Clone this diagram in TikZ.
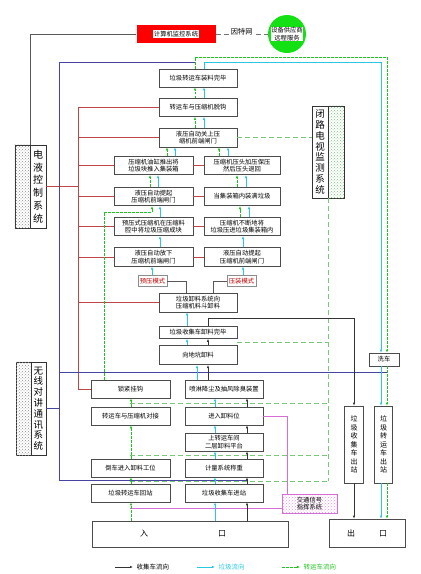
\documentclass[tikz,border=0pt]{standalone}
\usepackage{fontspec}
\setmainfont{Noto Sans CJK SC}
\usetikzlibrary{arrows.meta,patterns}
\definecolor{flowgreen}{RGB}{30,195,30}
\definecolor{flowcyan}{RGB}{40,200,225}
\definecolor{vendgreen}{RGB}{20,225,20}
\definecolor{ctrlred}{RGB}{190,70,70}
\definecolor{busblue}{RGB}{70,70,160}
\definecolor{sigpink}{RGB}{215,110,215}
\definecolor{cctvgreen}{RGB}{120,200,120}
\newcommand{\bxfont}{\fontsize{6.3}{7.6}\selectfont}
\newcommand{\sdfont}{\fontsize{10}{12.8}\selectfont}
\newcommand{\wxfont}{\fontsize{9.5}{10.8}\selectfont}
\newcommand{\vtfont}{\fontsize{7}{8.5}\selectfont}
\newcommand{\ptfont}{\fontsize{8}{9}\selectfont}
\newcommand{\lgfont}{\fontsize{6.5}{7.5}\selectfont}
\newcommand{\flowln}[4]{% style, x, lower box, upper box
\draw[#1] (#3.north -| #2,0) -- (#4.south -| #2,0);
}
\tikzset{
box/.style={draw=black!70, line width=0.55pt, fill=white, inner sep=0pt, align=center, font=\bxfont},
chainbox/.style={box, minimum width=78pt, minimum height=18pt},
lcol/.style={box, minimum width=79pt, minimum height=18.5pt},
rcol/.style={box, minimum width=76pt, minimum height=18.5pt},
lowbox/.style={box, minimum width=79pt, minimum height=18pt},
modebox/.style={draw=black!45, line width=0.4pt, fill=white, inner sep=0pt, text=red!75!black, font=\bxfont, minimum width=29pt, minimum height=11pt},
sidebox/.style={draw=black!80, line width=0.55pt, inner sep=0pt},
sidetxt/.style={inner sep=0pt, align=center, font=\sdfont},
vtbox/.style={box, minimum width=18.5pt, minimum height=77pt, font=\vtfont},
gflow/.style={flowgreen, dash pattern=on 2.5pt off 1.5pt, line width=0.6pt, ->},
cflow/.style={flowcyan, line width=0.6pt, ->},
kflow/.style={black!80, line width=0.6pt, ->},
ctrl/.style={ctrlred, line width=0.55pt},
bus/.style={busblue, line width=0.6pt},
cctv/.style={cctvgreen, dash pattern=on 5pt off 3pt, line width=0.6pt},
sig/.style={sigpink, line width=0.6pt},
link/.style={black!65, line width=0.55pt},
net/.style={black!55, dash pattern=on 5pt off 3pt, line width=0.6pt},
}
\begin{document}
\begin{tikzpicture}[x=1pt,y=-1pt,>={Latex[length=3pt,width=2.4pt]}]
\useasboundingbox (0,0) rectangle (421,574);

%%%%% top
\node[fill=red, minimum width=79pt, minimum height=18pt, inner sep=0pt] (mon) at (176,34) {};
\node[fill=white, inner sep=0.6pt, font=\bxfont] (monlbl) at (mon) {计算机监控系统};
\node[circle, fill=vendgreen, minimum size=38pt, inner sep=0pt] (vd) at (287,34) {};
\node[fill=white, inner sep=0.6pt, align=center, font=\bxfont] (vdlbl) at (vd) {设备供应商\\远程服务};
\draw[net] (mon.east) -- (vd.west) node[midway, fill=white, inner sep=1pt, yshift=2.5pt, text=black, font=\fontsize{7.2}{8}\selectfont] (inet) {因特网};

%%%%% side systems
\node[sidebox, minimum width=31pt, minimum height=83pt] (dy) at (30.5,186.5) {};
\fill[pattern=crosshatch dots, pattern color=black!45] (dy.north west) rectangle (dy.south);
\draw[black!80, line width=0.55pt] (dy.north) -- (dy.south);
\node[sidetxt] (dyt) at ([xshift=7.75pt]dy.center) {电\\液\\控\\制\\系\\统};

\node[sidebox, minimum width=30pt, minimum height=93pt] (wx) at (31,408.5) {};
\fill[pattern=crosshatch dots, pattern color=black!45] (wx.north west) rectangle (wx.south);
\draw[black!80, line width=0.55pt] (wx.north) -- (wx.south);
\node[sidetxt, font=\wxfont] (wxt) at ([xshift=7.5pt]wx.center) {无\\线\\对\\讲\\通\\讯\\系\\统};

\node[sidebox, minimum width=32pt, minimum height=92pt] (bl) at (328,152) {};
\fill[pattern=crosshatch dots, pattern color=cctvgreen] (bl.north) rectangle (bl.south east);
\draw[black!80, line width=0.55pt] (bl.north) -- (bl.south);
\node[sidetxt, font=\wxfont] (blt) at ([xshift=-8pt]bl.center) {闭\\路\\电\\视\\监\\测\\系\\统};

%%%%% compressor chain
\node[chainbox] (zl) at (198,78) {垃圾转运车装料完毕};
\node[chainbox] (tg) at (198,107.5) {转运车与压缩机脱钩};
\node[chainbox, minimum height=19pt] (gs) at (198,137.5) {液压自动关上压\\缩机前端闸门};

\node[lcol] (yg) at (153.5,165.5) {压缩机油缸推出将\\垃圾块推入集装箱};
\node[lcol] (tl) at (153.5,196.5) {液压自动提起\\压缩机前端闸门};
\node[lcol] (yy) at (153.5,226.5) {预压式压缩机在压缩料\\腔中将垃圾压缩成块};
\node[lcol] (fx) at (153.5,257) {液压自动放下\\压缩机前端闸门};

\node[rcol] (yt) at (242,165.5) {压缩机压头加压保压\\然后压头退回};
\node[rcol] (mz) at (242,196.5) {当集装箱内装满垃圾};
\node[rcol] (bd) at (242,226.5) {压缩机不断地将\\垃圾压进垃圾集装箱内};
\node[rcol] (tr) at (242,257) {液压自动提起\\压缩机前端闸门};

\node[modebox] (ym) at (152.5,281) {预压模式};
\node[modebox] (zm) at (241.5,281) {压装模式};

\node[chainbox, minimum height=19pt] (xl) at (198,302.5) {垃圾卸料系统向\\压缩机料斗卸料};
\node[chainbox, minimum height=12pt] (wb) at (198,332.5) {垃圾收集车卸料完毕};
\node[chainbox, minimum height=19.5pt] (dk) at (198,355) {向地坑卸料};

%%%%% station floor
\node[lowbox] (sj) at (130.5,389) {锁紧挂钩};
\node[lowbox] (dj) at (130.5,416) {转运车与压缩机对接};
\node[lowbox] (dc) at (130.5,468) {倒车进入卸料工位};
\node[lowbox] (hz) at (130.5,493) {垃圾转运车回站};
\node[lowbox, minimum width=78pt] (pl) at (224,389) {喷淋降尘及抽风除臭装置};
\node[lowbox, minimum width=78pt] (jr) at (224,416) {进入卸料位};
\node[lowbox, minimum width=78pt] (ec) at (224,442) {上转运车间\\二层卸料平台};
\node[lowbox, minimum width=78pt] (jl) at (224,468) {计量系统称重};
\node[lowbox, minimum width=78pt] (jz) at (224,493) {垃圾收集车进站};

\node[box, draw=sigpink, pattern=crosshatch dots, pattern color=sigpink!70, minimum width=55pt, minimum height=19pt] (jt) at (309.5,503.5) {交通信号\\指挥系统};

\node[box, minimum width=196pt, minimum height=26pt] (rk) at (190,534) {};
\node[font=\ptfont, inner sep=0pt] (rk1) at (144,534) {入};
\node[font=\ptfont, inner sep=0pt] (rk2) at (222,534) {口};
\node[box, minimum width=76pt, minimum height=28pt, font=\ptfont] (ck) at (367,533) {出\hspace{24pt}口};

\node[box, minimum width=30pt, minimum height=13pt] (xc) at (384,359.5) {洗车};
\node[vtbox] (sc) at (354,444.5) {垃\\圾\\收\\集\\车\\出\\站};
\node[vtbox] (zc) at (383.5,444.5) {垃\\圾\\转\\运\\车\\出\\站};

%%%%% control lines
\draw[link] (mon.west) -| (dy.north);
\draw[ctrl] (dy.east) -- (dy.east -| 78,0);
\draw[ctrl] (78,107.5) -- (78,389);
\foreach \b in {tg,gs,yg,tl,yy,fx,xl,sj}
  \draw[ctrl] (\b.west -| 78,0) -- (\b.west);
\foreach \a/\b in {yg/yt,tl/mz,yy/bd,fx/tr}
  \draw[ctrl] (\a.east) -- (\b.west);

%%%%% cctv
\draw[cctv] (gs.east) -- (gs.east -| bl.west);
\draw[cctv] (bl.south) -- (328,481);
\foreach \y/\xa in {342/237,403/130,455/130,481/130}
  \draw[cctv] (\xa,\y) -- (328,\y);

%%%%% radio
\draw[bus] (wx.east) -- (wx.east -| 59,0);
\draw[bus] (195,62) -- (59,62) -- (59,480) -- (247,480);
\draw[bus] (59,372) -- (388,372);

%%%%% traffic signal
\draw[sig] (jr.east) -| ([xshift=-22.5pt]jt.north);
\draw[sig] ([yshift=-4.5pt]jt.west) -- ++(-152,0);

%%%%% transfer truck
\flowln{gflow}{131}{rk}{hz}
\flowln{gflow}{131}{hz}{dc}
\flowln{gflow}{131}{dc}{dj}
\flowln{gflow}{131}{dj}{sj}
\draw[gflow] (sj.north -| 104,0) |- (152,212) -- (tl.south -| 152,0);
\flowln{gflow}{150}{tl}{yg}
\flowln{gflow}{167}{yg}{gs}
\flowln{gflow}{240}{bd}{mz}
\flowln{gflow}{237}{mz}{yt}
\flowln{gflow}{219}{yt}{gs}
\flowln{gflow}{195}{gs}{tg}
\flowln{gflow}{195}{tg}{zl}
\draw[gflow] (zl.north -| 195,0) -- (195,57) -| (xc.north -| 387,0);
\draw[gflow] (xc.south -| 387,0) -- (zc.north -| 387,0);
\draw[gflow] (zc.south -| 387,0) -- (ck.north -| 387,0);

%%%%% garbage
\flowln{cflow}{215}{rk}{jz}
\flowln{cflow}{215}{jz}{jl}
\flowln{cflow}{215}{jl}{ec}
\flowln{cflow}{215}{ec}{jr}
\flowln{cflow}{215}{jr}{pl}
\flowln{cflow}{197}{pl}{dk}
\flowln{cflow}{187}{dk}{wb}
\flowln{cflow}{187}{wb}{xl}
\draw[link] (xl.north -| 186,0) |- (ym.east);
\draw[link] (xl.north -| 213,0) |- (zm.west);
\flowln{cflow}{152}{ym}{fx}
\flowln{cflow}{243}{zm}{tr}
\flowln{cflow}{160}{fx}{yy}
\flowln{cflow}{160}{yy}{tl}
\flowln{cflow}{158}{tl}{yg}
\flowln{cflow}{175}{yg}{gs}
\flowln{cflow}{243}{tr}{bd}
\flowln{cflow}{249}{bd}{mz}
\flowln{cflow}{246}{mz}{yt}
\flowln{cflow}{228}{yt}{gs}
\flowln{cflow}{204}{gs}{tg}
\flowln{cflow}{204}{tg}{zl}
\draw[cflow] (zl.north -| 204,0) -- (204,62) -| (xc.north -| 381,0);
\draw[cflow] (xc.south -| 381,0) -- (zc.north -| 381,0);
\draw[cflow] (zc.south -| 381,0) -- (ck.north -| 381,0);

%%%%% collection truck
\flowln{kflow}{247}{rk}{jz}
\flowln{kflow}{247}{jz}{jl}
\flowln{kflow}{247}{jl}{ec}
\flowln{kflow}{247}{ec}{jr}
\flowln{kflow}{247}{jr}{pl}
\flowln{kflow}{208}{pl}{dk}
\flowln{kflow}{208}{dk}{wb}
\draw[kflow] (wb.north -| 208,0) -- (208,318) -| (sc.north);
\draw[kflow] (sc.south) -- (sc.south |- ck.north);

%%%%% legend
\draw[kflow] (115,567) -- (133,567) node[right, font=\lgfont, text=black] (lgk) {收集车流向};
\draw[cflow] (197,567) -- (215,567) node[right, font=\lgfont, text=flowcyan] (lgc) {垃圾流向};
\draw[gflow] (282,567) -- (300,567) node[right, font=\lgfont, text=flowgreen] (lgg) {转运车流向};

\end{tikzpicture}
\end{document}
